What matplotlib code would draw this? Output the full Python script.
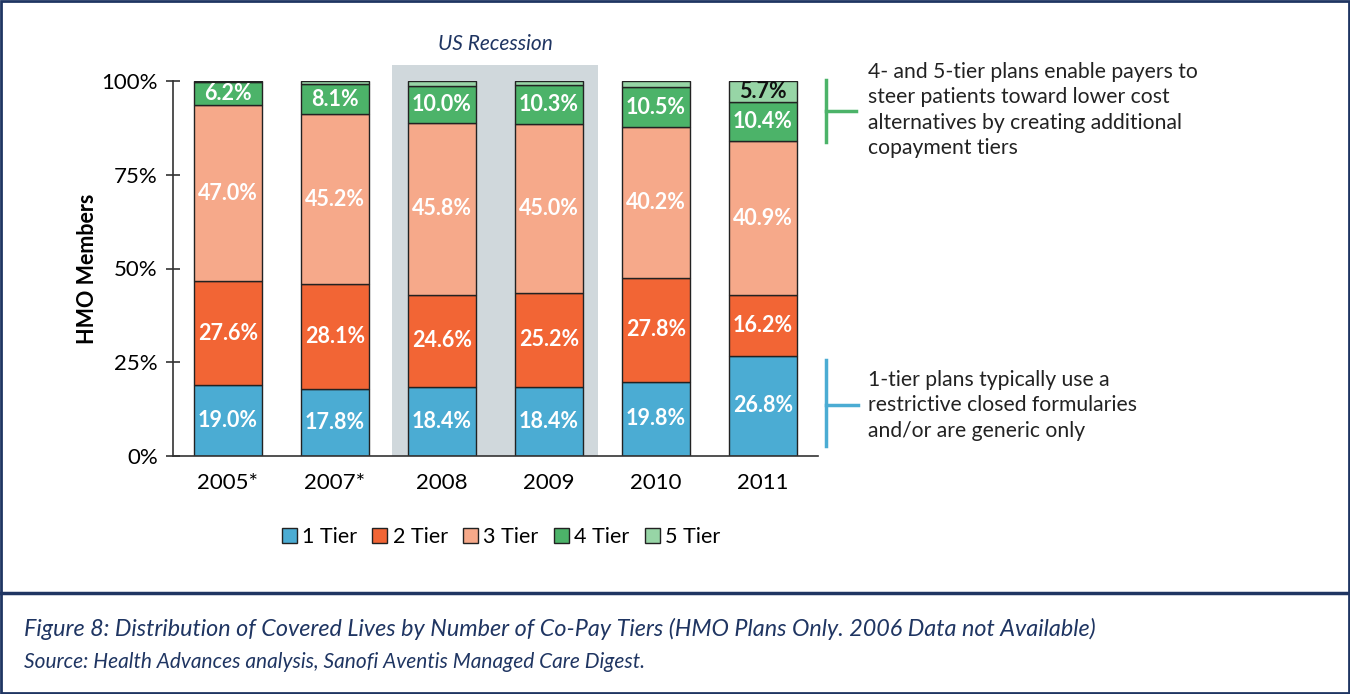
import matplotlib
matplotlib.use("Agg")
import matplotlib.pyplot as plt
from matplotlib.patches import Rectangle
from matplotlib.lines import Line2D
import numpy as np

plt.rcParams['font.family'] = ['Lato', 'DejaVu Sans']

years = ["2005*", "2007*", "2008", "2009", "2010", "2011"]
tier_names = ["1 Tier", "2 Tier", "3 Tier", "4 Tier", "5 Tier"]
tier1 = [19.0, 17.8, 18.4, 18.4, 19.8, 26.8]
tier2 = [27.6, 28.1, 24.6, 25.2, 27.8, 16.2]
tier3 = [47.0, 45.2, 45.8, 45.0, 40.2, 40.9]
tier4 = [6.2, 8.1, 10.0, 10.3, 10.5, 10.4]
tier5 = [0.2, 0.8, 1.2, 1.1, 1.7, 5.7]
colors = ["#4BACD3", "#F26535", "#F6A98A", "#4CB369", "#97D5A6"]
yticks = [0, 25, 50, 75, 100]
ytick_labels = ["0%", "25%", "50%", "75%", "100%"]
navy = "#1F3562"

fig = plt.figure(figsize=(13.5, 6.94), dpi=100)
ax = fig.add_axes([173/1350, 1-456/694, (818-173)/1350, (456-81)/694])

x = np.arange(len(years))
series = [tier1, tier2, tier3, tier4, tier5]
bottom = np.zeros(len(years))

# recession band
ax.add_patch(Rectangle((1.53, 0), 1.93, 104.3, facecolor="#D0D8DC", edgecolor="none",
                       zorder=0, clip_on=False))
ax.text(2.5, 109.8, "US Recession", ha="center", va="center", style="italic",
        fontsize=15, color=navy)

for i, vals in enumerate(series):
    v = np.array(vals)
    ax.bar(x, v, bottom=bottom, width=0.635, color=colors[i], edgecolor="#222222",
           linewidth=1.0, zorder=2, label=tier_names[i])
    for j in range(len(years)):
        if v[j] >= 5:
            col = "white"
            if i == 4:
                col = "#111111"
            ax.text(x[j], bottom[j] + v[j] / 2, f"{v[j]:.1f}%", ha="center", va="center",
                    fontsize=15.5, fontweight="bold", color=col, zorder=3)
    bottom = bottom + v

ax.set_xlim(-0.514, 5.514)
ax.set_ylim(0, 100)
ax.set_yticks(yticks)
ax.set_yticklabels(ytick_labels, fontsize=16)
ax.set_xticks(x)
ax.set_xticklabels(years, fontsize=16)
ax.tick_params(axis="y", direction="inout", length=10, width=1.2, pad=6, color="#333333")
ax.tick_params(axis="x", length=0, pad=12)
for s in ["top", "right"]:
    ax.spines[s].set_visible(False)
for s in ["left", "bottom"]:
    ax.spines[s].set_linewidth(1.2)
    ax.spines[s].set_color("#333333")
ax.set_ylabel("HMO Members", fontsize=15.5, fontweight="bold", labelpad=2)
ax.set_facecolor("none")

handles = [Rectangle((0, 0), 1, 1, facecolor=c, edgecolor="#222222", linewidth=1.0) for c in colors]
fig.legend(handles, tier_names, loc="center", bbox_to_anchor=(501/1350, 1-537/694), ncol=5,
           frameon=False, fontsize=15.5, handlelength=0.7, handleheight=0.7, handletextpad=0.25,
           columnspacing=0.7)

# annotation brackets
green = "#4CB369"
blue = "#4BACD3"
fig.add_artist(Line2D([826/1350, 826/1350], [1-80/694, 1-142/694], color=green, lw=2.5))
fig.add_artist(Line2D([826/1350, 856/1350], [1-111/694, 1-111/694], color=green, lw=2.5))
fig.add_artist(Line2D([826/1350, 826/1350], [1-360/694, 1-446/694], color=blue, lw=2.5))
fig.add_artist(Line2D([826/1350, 858/1350], [1-405/694, 1-405/694], color=blue, lw=2.5))

fig.text(868/1350, 1-62/694,
         "4- and 5-tier plans enable payers to\nsteer patients toward lower cost\nalternatives by creating additional\ncopayment tiers",
         ha="left", va="top", fontsize=15.2, color="#222222", linespacing=1.34)
fig.text(868/1350, 1-370/694,
         "1-tier plans typically use a\nrestrictive closed formularies\nand/or are generic only",
         ha="left", va="top", fontsize=15.2, color="#222222", linespacing=1.34)

# frame
fig.add_artist(Rectangle((0.001, 0.001), 0.998, 0.998, transform=fig.transFigure,
                         facecolor="none", edgecolor=navy, lw=2))
fig.add_artist(Line2D([0, 1], [1-593/694, 1-593/694], color=navy, lw=2.5))

fig.text(24/1350, 1-629/694,
         "Figure 8: Distribution of Covered Lives by Number of Co-Pay Tiers (HMO Plans Only. 2006 Data not Available)",
         ha="left", va="center", style="italic", fontsize=16.8, color=navy)
fig.text(24/1350, 1-662/694, "Source: Health Advances analysis, Sanofi Aventis Managed Care Digest.",
         ha="left", va="center", style="italic", fontsize=15, color=navy)

fig.savefig("out.png", dpi=100)
